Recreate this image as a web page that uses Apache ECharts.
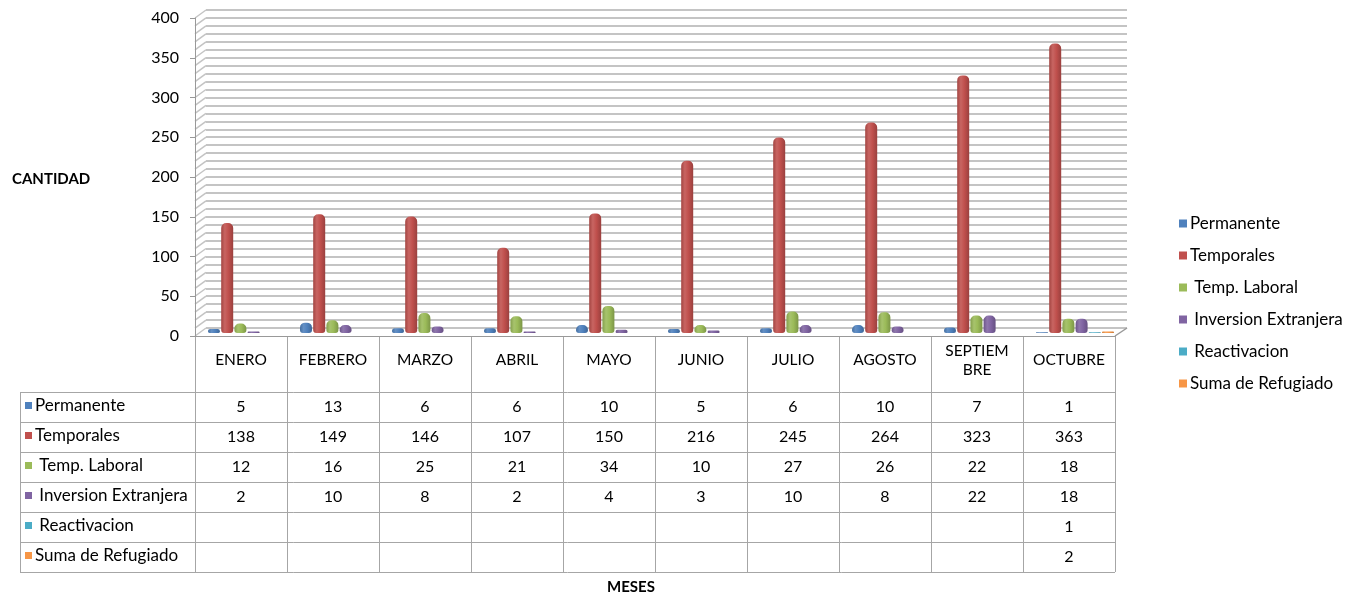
<!DOCTYPE html>
<html>
<head>
<meta charset="utf-8">
<script src="https://cdn.jsdelivr.net/npm/echarts@6/dist/echarts.min.js"></script>
<style>
html,body{margin:0;padding:0;background:#fff;}
#main{width:1358px;height:597px;}
</style>
</head>
<body>
<div id="main"></div>
<script>
// meses
var months = ['ENERO', 'FEBRERO', 'MARZO', 'ABRIL', 'MAYO', 'JUNIO', 'JULIO', 'AGOSTO', 'SEPTIEMBRE', 'OCTUBRE'];
// nombres de series (como en la tabla)
var names = ['Permanente', 'Temporales', ' Temp. Laboral', ' Inversion Extranjera', ' Reactivacion', 'Suma de Refugiado'];
var permanente = [5, 13, 6, 6, 10, 5, 6, 10, 7, 1];
var temporales = [138, 149, 146, 107, 150, 216, 245, 264, 323, 363];
var tempLaboral = [12, 16, 25, 21, 34, 10, 27, 26, 22, 18];
var inversion = [2, 10, 8, 2, 4, 3, 10, 8, 22, 18];
var reactivacion = [null, null, null, null, null, null, null, null, null, 1];
var refugiado = [null, null, null, null, null, null, null, null, null, 2];

var values = [permanente, temporales, tempLaboral, inversion, reactivacion, refugiado];
var colors = ['#4F81BD', '#C0504D', '#9BBB59', '#8064A2', '#4BACC6', '#F79646'];
var font = 'Lato, "Open Sans", sans-serif';

function shade(hex, f) {
    var n = parseInt(hex.slice(1), 16);
    var r = (n >> 16) & 255, g = (n >> 8) & 255, b = n & 255;
    var m = function (c) { return Math.max(0, Math.min(255, Math.round(f > 0 ? c + (255 - c) * f : c * (1 + f)))); };
    return 'rgb(' + m(r) + ',' + m(g) + ',' + m(b) + ')';
}
// degradado tipo cilindro
function cyl(c) {
    return new echarts.graphic.LinearGradient(0, 0, 1, 0, [
        {offset: 0, color: shade(c, -0.15)},
        {offset: 0.3, color: shade(c, 0.12)},
        {offset: 0.6, color: c},
        {offset: 1, color: shade(c, -0.2)}
    ]);
}

var chart = echarts.init(document.getElementById('main'));

var series = [];
for (var i = 0; i < names.length; i++) {
    series.push({
        name: names[i],
        type: 'bar',
        xAxisIndex: 2,
        yAxisIndex: 2,
        barWidth: 12,
        barGap: '10%',
        data: values[i],
        itemStyle: {color: cyl(colors[i]), borderRadius: [5, 5, 3, 3]}
    });
}

chart.setOption({
    backgroundColor: '#fff',
    animation: false,
    textStyle: {fontFamily: font},
    legend: {
        orient: 'vertical',
        left: 1174,
        top: 210,
        icon: 'rect',
        itemWidth: 8,
        itemHeight: 8,
        itemGap: 15,
        data: names.map(function (n, k) { return {name: n, itemStyle: {color: colors[k]}}; }),
        textStyle: {fontSize: 17, color: '#000', fontFamily: font, padding: [0, 0, 0, -2]}
    },
    grid: [
        {left: 195, right: 243, top: 18, bottom: 261},   // frente: ejes
        {left: 206, right: 231, top: 10, bottom: 269},   // pared del fondo
        {left: 201, right: 237, top: 14, bottom: 264}    // barras
    ],
    xAxis: [
        {type: 'category', gridIndex: 0, data: months, axisLine: {lineStyle: {color: '#999'}},
            axisTick: {show: false}, axisLabel: {show: false}},
        {type: 'category', gridIndex: 1, data: months, show: false},
        {type: 'category', gridIndex: 2, data: months, show: false}
    ],
    yAxis: [
        {type: 'value', gridIndex: 0, min: 0, max: 400, interval: 50,
            axisLine: {show: true, lineStyle: {color: '#999'}},
            axisTick: {show: true, length: 5, lineStyle: {color: '#999'}},
            axisLabel: {fontSize: 16, color: '#000', margin: 16, fontFamily: font},
            splitLine: {show: false}},
        {type: 'value', gridIndex: 1, min: 0, max: 400, interval: 50,
            axisLine: {show: false}, axisTick: {show: false}, axisLabel: {show: false},
            splitLine: {show: true, lineStyle: {color: '#c4c4c4', width: 2}},
            minorTick: {show: false, splitNumber: 5},
            minorSplitLine: {show: true, lineStyle: {color: '#c4c4c4', width: 2}}},
        {type: 'value', gridIndex: 2, min: 0, max: 400, show: false, splitLine: {show: false}}
    ],
    series: series
});

// pared izquierda, piso y tabla de datos
function drawExtras() {
    var g = [];
    var lineC = '#a6a6a6';
    // diagonales de la pared izquierda
    for (var v = 0; v <= 400; v += 10) {
        var p0 = chart.convertToPixel({xAxisIndex: 0, yAxisIndex: 0}, [0, v]);
        var p1 = chart.convertToPixel({xAxisIndex: 1, yAxisIndex: 1}, [0, v]);
        g.push({type: 'line', shape: {x1: 195, y1: p0[1], x2: 206, y2: p1[1]},
            style: {stroke: '#c4c4c4', lineWidth: 1.5}, silent: true});
    }
    var y0 = chart.convertToPixel({yAxisIndex: 0}, 0);
    var y1 = chart.convertToPixel({yAxisIndex: 1}, 0);
    var c0 = chart.convertToPixel({xAxisIndex: 0}, 0);
    var c1 = chart.convertToPixel({xAxisIndex: 0}, 1);
    var band = c1 - c0;
    var left = c0 - band / 2;
    var right = left + band * months.length;
    g.push({type: 'line', shape: {x1: right, y1: y0, x2: right + 12, y2: y1},
        style: {stroke: '#999', lineWidth: 1.5}, silent: true});

    var headTop = y0, headBot = y0 + 56, rowH = 30;
    var tableLeft = 20;
    var bottom = headBot + rowH * names.length;
    // lineas verticales
    for (var k = 0; k <= months.length; k++) {
        var x = Math.round(left + band * k) + 0.5;
        g.push({type: 'line', shape: {x1: x, y1: headTop, x2: x, y2: bottom},
            style: {stroke: lineC, lineWidth: 1}, silent: true});
    }
    g.push({type: 'line', shape: {x1: tableLeft + 0.5, y1: headBot, x2: tableLeft + 0.5, y2: bottom},
        style: {stroke: lineC, lineWidth: 1}, silent: true});
    // lineas horizontales
    for (var r = 0; r <= names.length; r++) {
        var yy = headBot + rowH * r + 0.5;
        g.push({type: 'line', shape: {x1: tableLeft, y1: yy, x2: right, y2: yy},
            style: {stroke: lineC, lineWidth: 1}, silent: true});
    }
    // encabezados de meses
    for (var m = 0; m < months.length; m++) {
        var cx = chart.convertToPixel({xAxisIndex: 0}, m);
        var label = months[m].length > 8 ? months[m].slice(0, 7) + '\n' + months[m].slice(7) : months[m];
        g.push({type: 'text', x: cx, y: headTop + 24, silent: true,
            style: {text: label, fontSize: 15.5, fill: '#000', fontFamily: font, align: 'center',
                verticalAlign: 'middle', lineHeight: 19}});
    }
    // filas
    for (var s = 0; s < names.length; s++) {
        var ry = headBot + rowH * s + rowH / 2;
        g.push({type: 'rect', shape: {x: 25, y: ry - 5, width: 7, height: 7}, style: {fill: colors[s]}, silent: true});
        g.push({type: 'text', x: 35, y: ry - 1, silent: true,
            style: {text: names[s], fontSize: 17, fill: '#000', fontFamily: font, verticalAlign: 'middle'}});
        for (var j = 0; j < months.length; j++) {
            if (values[s][j] == null) continue;
            var vx = chart.convertToPixel({xAxisIndex: 0}, j);
            g.push({type: 'text', x: vx, y: ry, silent: true,
                style: {text: String(values[s][j]), fontSize: 16, fill: '#000', fontFamily: font,
                    align: 'center', verticalAlign: 'middle'}});
        }
    }
    // titulos de ejes
    g.push({type: 'text', x: 12, y: 179, silent: true,
        style: {text: 'CANTIDAD', fontSize: 15, fontWeight: 'bold', fill: '#000', fontFamily: font, verticalAlign: 'middle'}});
    g.push({type: 'text', x: (left + right) / 2 - 24, y: 587, silent: true,
        style: {text: 'MESES', fontSize: 15, fontWeight: 'bold', fill: '#000', fontFamily: font, align: 'center', verticalAlign: 'middle'}});
    chart.setOption({graphic: g});
}
drawExtras();
</script>
</body>
</html>
